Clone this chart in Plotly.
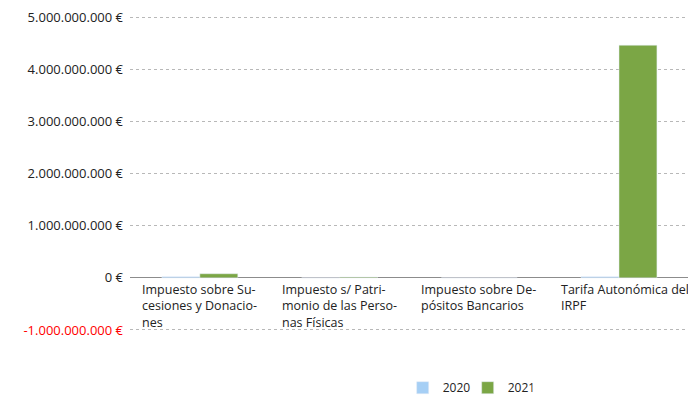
import plotly.graph_objects as go

categories = [
    "Impuesto sobre Sucesiones y Donaciones",
    "Impuesto s/ Patrimonio de las Personas Físicas",
    "Impuesto sobre Depósitos Bancarios",
    "Tarifa Autonómica del IRPF",
]
category_labels = [
    "Impuesto sobre Su-<br>cesiones y Donacio-<br>nes",
    "Impuesto s/ Patri-<br>monio de las Perso-<br>nas Físicas",
    "Impuesto sobre De-<br>pósitos Bancarios",
    "Tarifa Autonómica del<br>IRPF",
]
values_2020 = [20e6, 0, 0, 20e6]
values_2021 = [78e6, 15e6, 0, 4.46e9]

tick_vals = [-1e9, 0, 1e9, 2e9, 3e9, 4e9, 5e9]
tick_text = [
    '<span style="color:#ff0000">-1.000.000.000 €</span>',
    "0 €",
    "1.000.000.000 €",
    "2.000.000.000 €",
    "3.000.000.000 €",
    "4.000.000.000 €",
    "5.000.000.000 €",
]

FONT = "Open Sans"
TXT = "#222222"
fig = go.Figure()
fig.add_trace(go.Bar(name="2020", x=categories, y=values_2020, marker_color="#a6cff5"))
fig.add_trace(go.Bar(name="2021", x=categories, y=values_2021, marker_color="#7ba645"))

annotations = []
for cat, label in zip(categories, category_labels):
    annotations.append(dict(
        x=cat, y=0, xref="x", yref="y", text=label, showarrow=False,
        xanchor="left", yanchor="top", align="left", xshift=-59, yshift=-2,
        borderpad=0, font=dict(family=FONT, size=12.5, color=TXT),
    ))

# page body has an 8px default margin, so the figure is 8px smaller
fig.update_layout(
    width=688, height=398,
    margin=dict(l=122, r=6, t=8, b=75, autoexpand=False),
    paper_bgcolor="white", plot_bgcolor="white",
    barmode="group", bargap=0.457, bargroupgap=0,
    font=dict(family=FONT, size=12, color=TXT),
    xaxis=dict(showticklabels=False, showgrid=False, showline=False, ticks=""),
    yaxis=dict(
        range=[-1.02e9, 5.02e9], tickvals=tick_vals, ticktext=tick_text,
        showgrid=True, gridcolor="#b8b8b8", gridwidth=1, griddash="3px,3px",
        zeroline=True, zerolinecolor="#8c8c8c", zerolinewidth=1,
        ticks="", ticklabelstandoff=6, ticklabeloverflow="allow",
        tickfont=dict(family=FONT, size=13, color=TXT),
    ),
    legend=dict(
        orientation="h", x=0.603, xanchor="center", y=-0.18, yanchor="middle",
        font=dict(family=FONT, size=12, color=TXT),
        itemwidth=30, traceorder="normal",
        entrywidth=20, entrywidthmode="pixels",
    ),
    annotations=annotations,
)

fig.write_html("out.html")
